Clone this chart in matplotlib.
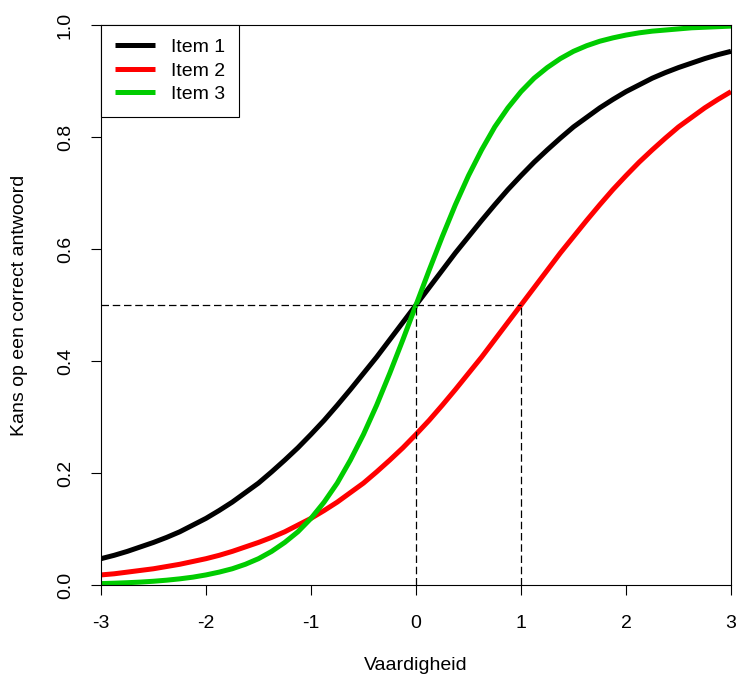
import matplotlib.pyplot as plt
import numpy as np

plt.rcParams['font.family'] = ['Liberation Sans', 'DejaVu Sans']

# values, every 0.125 on the x axis
x = [-3, -2.875, -2.75, -2.625, -2.5, -2.375, -2.25, -2.125, -2, -1.875, -1.75, -1.625,
     -1.5, -1.375, -1.25, -1.125, -1, -0.875, -0.75, -0.625, -0.5, -0.375, -0.25, -0.125,
     0, 0.125, 0.25, 0.375, 0.5, 0.625, 0.75, 0.875, 1, 1.125, 1.25, 1.375,
     1.5, 1.625, 1.75, 1.875, 2, 2.125, 2.25, 2.375, 2.5, 2.625, 2.75, 2.875, 3]

item1 = [0.047, 0.053, 0.060, 0.068, 0.076, 0.085, 0.095, 0.107, 0.119, 0.133, 0.148, 0.165,
         0.182, 0.202, 0.223, 0.245, 0.269, 0.294, 0.321, 0.349, 0.378, 0.407, 0.438, 0.469,
         0.500, 0.531, 0.562, 0.593, 0.622, 0.651, 0.679, 0.706, 0.731, 0.755, 0.777, 0.798,
         0.818, 0.835, 0.852, 0.867, 0.881, 0.893, 0.905, 0.915, 0.924, 0.932, 0.940, 0.947, 0.953]
item2 = [0.018, 0.020, 0.023, 0.026, 0.029, 0.033, 0.037, 0.042, 0.047, 0.053, 0.060, 0.068,
         0.076, 0.085, 0.095, 0.107, 0.119, 0.133, 0.148, 0.165, 0.182, 0.202, 0.223, 0.245,
         0.269, 0.294, 0.321, 0.349, 0.378, 0.407, 0.438, 0.469, 0.500, 0.531, 0.562, 0.593,
         0.622, 0.651, 0.679, 0.706, 0.731, 0.755, 0.777, 0.798, 0.818, 0.835, 0.852, 0.867, 0.881]
item3 = [0.0025, 0.0032, 0.0041, 0.0052, 0.0067, 0.0086, 0.011, 0.014, 0.018, 0.023, 0.029, 0.037,
         0.047, 0.060, 0.076, 0.095, 0.119, 0.148, 0.182, 0.223, 0.269, 0.321, 0.378, 0.438,
         0.500, 0.562, 0.622, 0.679, 0.731, 0.777, 0.818, 0.852, 0.881, 0.905, 0.924, 0.940,
         0.953, 0.963, 0.971, 0.977, 0.982, 0.986, 0.989, 0.991, 0.993, 0.995, 0.996, 0.997, 0.998]

labels = ['Item 1', 'Item 2', 'Item 3']
colors = ['black', '#ff0000', '#00cc00']

xticks = [-3, -2, -1, 0, 1, 2, 3]
yticks = [0.0, 0.2, 0.4, 0.6, 0.8, 1.0]

fig = plt.figure(figsize=(7.36, 6.77), dpi=100)
ax = fig.add_axes([101/736, 1-585/677, 630/736, 560/677])

for ys, lab, c in zip([item1, item2, item3], labels, colors):
    ax.plot(x, ys, color=c, lw=3.6, label=lab, solid_capstyle='butt')

# dashed guide lines at p = 0.5
ax.plot([-3, 1], [0.5, 0.5], color='black', lw=0.9, ls=(0, (6, 3)))
ax.plot([0, 0], [0, 0.5], color='black', lw=0.9, ls=(0, (6, 3)))
ax.plot([1, 1], [0, 0.5], color='black', lw=0.9, ls=(0, (6, 3)))

ax.set_xlim(-3, 3)
ax.set_ylim(0, 1)
ax.set_xticks(xticks)
ax.set_xticklabels([str(t) for t in xticks])
ax.set_yticks(yticks)
ax.set_yticklabels(['%.1f' % t for t in yticks], rotation=90, va='center')
ax.tick_params(direction='out', length=7.5, width=0.8, labelsize=14, pad=14)
ax.tick_params(axis='y', pad=12)
for s in ax.spines.values():
    s.set_linewidth(0.8)

ax.set_xlabel('Vaardigheid', fontsize=14)
ax.xaxis.set_label_coords(0.5, -0.128)
ax.set_ylabel('Kans op een correct antwoord', fontsize=14)
ax.yaxis.set_label_coords(-0.116, 0.5)

leg = ax.legend(loc='upper left', bbox_to_anchor=(0, 1), borderaxespad=0,
                fancybox=False, edgecolor='black', fontsize=14,
                handlelength=2.1, handletextpad=0.8, labelspacing=0.3,
                borderpad=0.7, framealpha=1)
leg.get_frame().set_linewidth(0.8)

fig.savefig('out.png', dpi=100)
